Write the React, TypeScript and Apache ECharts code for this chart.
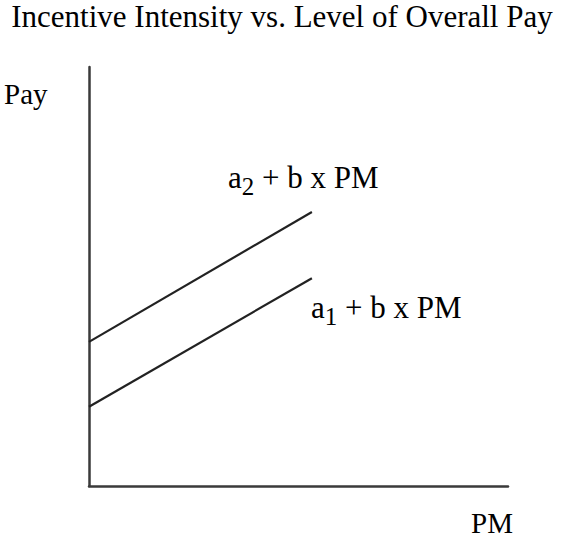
import React, { useEffect, useRef } from "react";
import * as echarts from "echarts";

const titleText = "Incentive Intensity vs. Level of Overall Pay";
const xName = "PM";
const yName = "Pay";
const pmRange = [0, 53.2];
const payHigh = [34.4, 65.4];
const payLow = [18.9, 49.6];

const FONT = "'Liberation Serif', 'Times New Roman', serif";

export default function App() {
  const ref = useRef<HTMLDivElement>(null);
  useEffect(() => {
    const chart = echarts.init(ref.current!, undefined, { renderer: "svg" });
    const rich = {
      n: { fontFamily: FONT, fontSize: 31, color: "#000", lineHeight: 34 },
      s: { fontFamily: FONT, fontSize: 25, color: "#000", lineHeight: 34, padding: [18, 0, 0, 0] },
    };
    chart.setOption({
      animation: false,
      backgroundColor: "#fff",
      grid: { left: 89, right: 54, top: 67, bottom: 54 },
      xAxis: {
        type: "value",
        min: 0,
        max: 100,
        axisLine: { show: true, lineStyle: { color: "#3a3a3a", width: 2.5 } },
        axisTick: { show: false },
        axisLabel: { show: false },
        splitLine: { show: false },
      },
      yAxis: {
        type: "value",
        min: 0,
        max: 100,
        axisLine: { show: true, lineStyle: { color: "#3a3a3a", width: 2.5 } },
        axisTick: { show: false },
        axisLabel: { show: false },
        splitLine: { show: false },
      },
      series: [
        {
          type: "line",
          data: pmRange.map((x, i) => [x, payHigh[i]]),
          showSymbol: false,
          lineStyle: { color: "#222", width: 2.2 },
        },
        {
          type: "line",
          data: pmRange.map((x, i) => [x, payLow[i]]),
          showSymbol: false,
          lineStyle: { color: "#222", width: 2.2 },
        },
      ],
      graphic: [
        {
          type: "text",
          x: 282,
          y: 32,
          style: { text: titleText, fontFamily: FONT, fontSize: 31, fill: "#000", align: "center", verticalAlign: "bottom" },
        },
        { type: "text", x: 4, y: 108, style: { text: yName, fontFamily: FONT, fontSize: 29, fill: "#000", verticalAlign: "bottom" } },
        { type: "text", x: 471, y: 537, style: { text: xName, fontFamily: FONT, fontSize: 29, fill: "#000", verticalAlign: "bottom" } },
        {
          type: "text",
          x: 228,
          y: 160,
          style: { text: "{n|a}{s|2}{n| + b x PM}", rich, fill: "#000" },
        },
        {
          type: "text",
          x: 311,
          y: 290,
          style: { text: "{n|a}{s|1}{n| + b x PM}", rich, fill: "#000" },
        },
      ],
    });
    return () => chart.dispose();
  }, []);
  return <div ref={ref} style={{ width: 562, height: 540, position: "absolute", left: 0, top: 0 }} />;
}
